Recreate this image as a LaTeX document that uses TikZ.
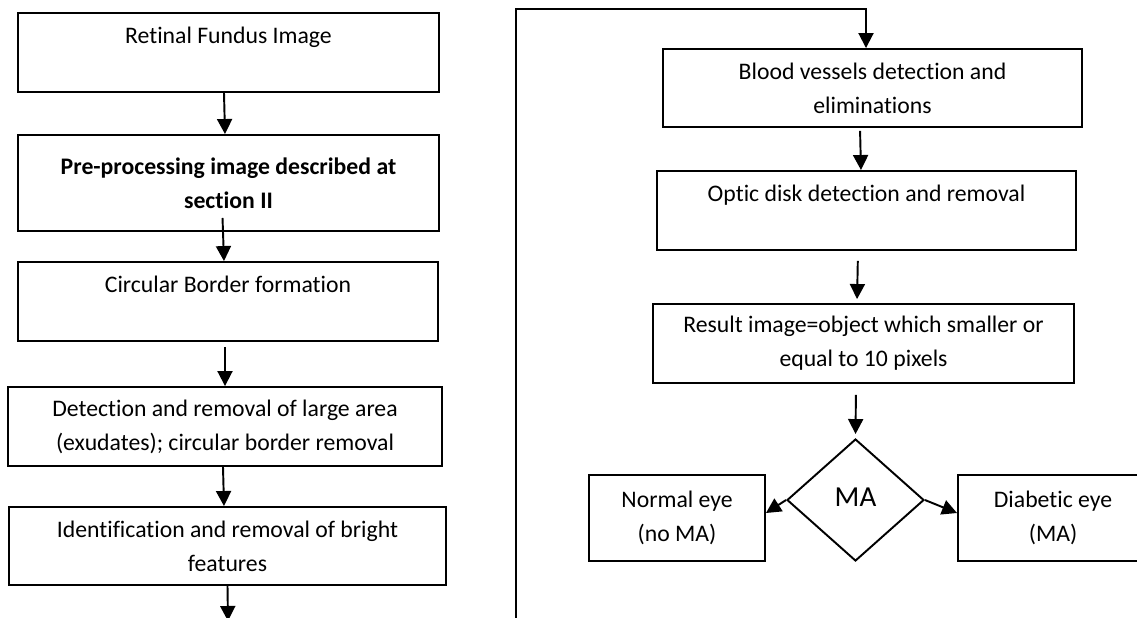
\documentclass[tikz,border=0pt]{standalone}
\usepackage{fontspec}
\setmainfont{Carlito}[Ligatures=NoCommon]
\usetikzlibrary{arrows.meta,shapes.geometric}

\tikzset{
  stepbox/.style={draw, line width=1.1pt, rectangle, align=center, inner sep=0pt,
    font=\fontsize{13.5}{19.4}\selectfont},
  boldbox/.style={stepbox, font=\fontsize{13.5}{19.4}\selectfont\bfseries},
  decide/.style={draw, line width=1.1pt, diamond, inner sep=0pt,
    minimum width=2.74cm, minimum height=2.44cm, font=\fontsize{16.5}{20}\selectfont},
  arr/.style={line width=1.1pt, -{Triangle[length=0.3cm,width=0.3cm]}},
}

\begin{document}
\begin{tikzpicture}
\useasboundingbox (0,0) rectangle (22.74,-12.34);
% left column
\node[stepbox, minimum width=8.42cm, minimum height=1.58cm] (fundus) at (4.57,-1.05) {Retinal Fundus Image\\~};
\node[boldbox, minimum width=8.42cm, minimum height=1.92cm] (preproc) at (4.57,-3.66) {Pre-processing image described at\\section II};
\node[stepbox, minimum width=8.40cm, minimum height=1.58cm] (border) at (4.56,-6.03) {Circular Border formation\\~};
\node[stepbox, minimum width=8.68cm, minimum height=1.58cm] (large) at (4.50,-8.53) {Detection and removal of large area\\(exudates); circular border removal};
\node[stepbox, minimum width=8.74cm, minimum height=1.56cm] (bright) at (4.55,-10.92) {Identification and removal of bright\\features};
\coordinate (leftend) at (4.56,-12.42);
%
% right column
\node[stepbox, minimum width=8.38cm, minimum height=1.56cm] (vessels) at (17.45,-1.76) {Blood vessels detection and\\eliminations};
\node[stepbox, minimum width=8.38cm, minimum height=1.58cm] (optic) at (17.33,-4.21) {Optic disk detection and removal\\~};
\node[stepbox, minimum width=8.42cm, minimum height=1.58cm] (result) at (17.27,-6.87) {Result image=object which smaller or\\equal to 10 pixels};
\node[decide] (ma) at (17.11,-10.00) {\raisebox{0.12cm}{MA}};
\node[stepbox, minimum width=3.52cm, minimum height=1.72cm] (normal) at (13.54,-10.36) {Normal eye\\(no MA)};
\node[stepbox, minimum width=3.80cm, minimum height=1.72cm] (diabetic) at (21.06,-10.36) {Diabetic eye\\(MA)};
%
% loop back from the left column
\coordinate (loopbot) at (10.32,-12.6);
\coordinate (looptop) at (10.32,-0.18);
\coordinate (loopend) at (17.32,-0.18);
%
\draw[arr] ([xshift=-0.09cm]fundus.south) -- ([xshift=-0.07cm]preproc.north);
\draw[arr, shorten <=-0.28cm] ([xshift=-0.11cm]preproc.south) -- ([xshift=-0.08cm]border.north);
\draw[arr, shorten <=0.1cm] ([xshift=-0.06cm]border.south) -- (large.north);
\draw[arr] ([xshift=-0.04cm]large.south) -- ([xshift=-0.07cm]bright.north);
\draw[arr] (bright.south) -- (leftend);
\draw[arr] (loopbot) -- (looptop) -- (loopend) -- (loopend |- vessels.north);
\draw[arr, shorten <=0.06cm] ([xshift=-0.25cm]vessels.south) -- ([xshift=-0.11cm]optic.north);
\draw[arr, shorten <=0.2cm, shorten >=0.08cm] ([xshift=-0.17cm]optic.south) -- ([xshift=-0.13cm]result.north);
\draw[arr, shorten <=0.22cm, shorten >=0.08cm] ([xshift=-0.15cm]result.south) -- (ma.north);
\draw[arr] (ma.west) -- ([yshift=0.1cm]normal.east);
\draw[arr] (ma.east) -- ([yshift=0.1cm]diabetic.west);
\end{tikzpicture}
\end{document}
